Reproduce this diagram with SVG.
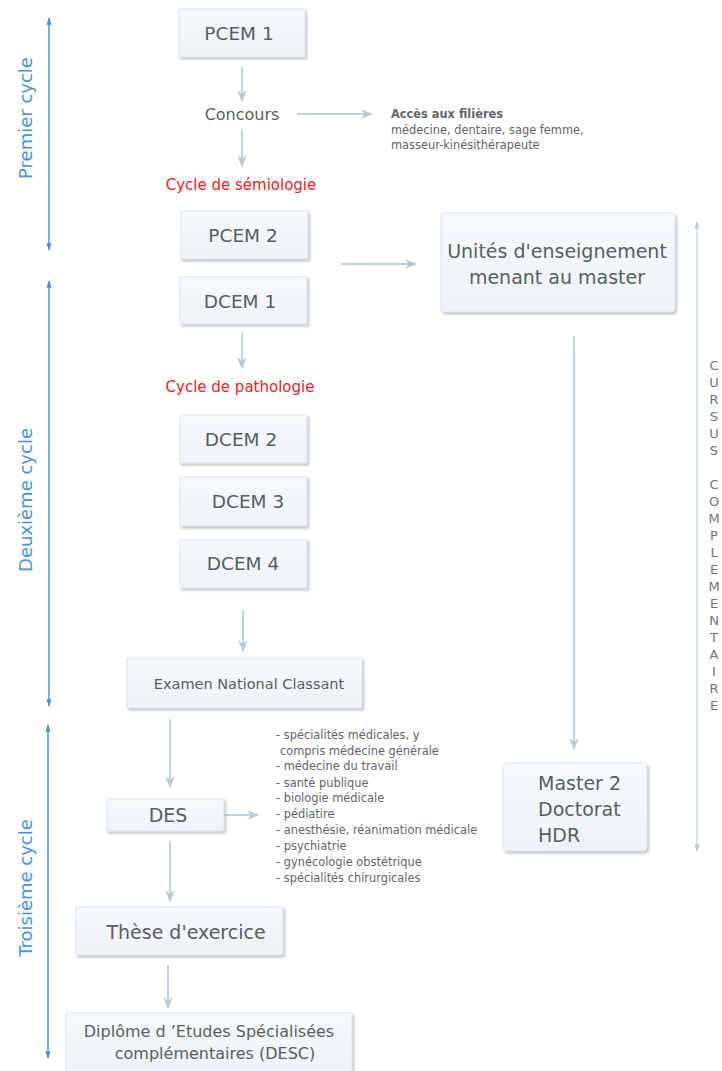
<svg xmlns="http://www.w3.org/2000/svg" width="722" height="1071" viewBox="0 0 722 1071">
  <defs>
    <linearGradient id="boxFill" x1="0" y1="0" x2="0" y2="1">
      <stop offset="0" stop-color="#f6f9fd"/>
      <stop offset="1" stop-color="#eef3f9"/>
    </linearGradient>
    <filter id="shadow" x="-10%" y="-10%" width="125%" height="130%">
      <feDropShadow dx="1.5" dy="2" stdDeviation="1" flood-color="#8a9099" flood-opacity="0.55"/>
    </filter>
    <marker id="arrowGrey" viewBox="0 0 10 10" refX="9" refY="5" markerWidth="6" markerHeight="6" orient="auto" markerUnits="strokeWidth">
      <path d="M0,1 L10,5 L0,9 L3,5 Z" fill="#b9c9d6"/>
    </marker>
    <marker id="arrowBlue" viewBox="0 0 10 10" refX="9" refY="5" markerWidth="6" markerHeight="5" orient="auto-start-reverse" markerUnits="strokeWidth">
      <path d="M0,1.5 L10,5 L0,8.5 Z" fill="#4a90e2"/>
    </marker>
    <marker id="arrowThin" viewBox="0 0 10 10" refX="9" refY="5" markerWidth="8" markerHeight="6" orient="auto-start-reverse" markerUnits="strokeWidth">
      <path d="M0,1.5 L10,5 L0,8.5 Z" fill="#b9c9d6"/>
    </marker>
  </defs>
  <style>
    .box { fill: url(#boxFill); stroke: #dfe6ee; stroke-width: 1; filter: url(#shadow); }
    .lbl { font-family: "DejaVu Sans", Verdana, sans-serif; fill: #585d64; text-anchor: middle; }
    .red { font-family: "DejaVu Sans", Verdana, sans-serif; fill: #ee2222; text-anchor: middle; font-size: 15px; }
    .small { font-family: "DejaVu Sans", Verdana, sans-serif; fill: #5f646b; font-size: 11.4px; }
    .cycle { font-family: "DejaVu Sans", Verdana, sans-serif; fill: #4a90e2; font-size: 18px; text-anchor: middle; }
    .flow { stroke: #c3d1dc; stroke-width: 2; fill: none; marker-end: url(#arrowGrey); }
    .blue { stroke: #4a90e2; stroke-width: 1.5; fill: none; marker-start: url(#arrowBlue); marker-end: url(#arrowBlue); }
    .thin { stroke: #c3d1dc; stroke-width: 1.2; fill: none; marker-start: url(#arrowThin); marker-end: url(#arrowThin); }
    .vert { font-family: "DejaVu Sans", Verdana, sans-serif; fill: #70757c; font-size: 13px; text-anchor: middle; }
  </style>

  <!-- cycle brackets on the left -->
  <g id="cycles">
    <line class="blue" x1="49" y1="18" x2="49" y2="250"/>
    <text class="cycle" transform="translate(32,118) rotate(-90)">Premier cycle</text>
    <line class="blue" x1="49" y1="281" x2="49" y2="706"/>
    <text class="cycle" transform="translate(32,500) rotate(-90)">Deuxième cycle</text>
    <line class="blue" x1="48" y1="725" x2="48" y2="1058"/>
    <text class="cycle" transform="translate(32,888) rotate(-90)">Troisième cycle</text>
  </g>

  <!-- connectors -->
  <g id="connectors">
    <line class="flow" x1="242" y1="67" x2="242" y2="101"/>
    <line class="flow" x1="297" y1="114" x2="372" y2="114"/>
    <line class="flow" x1="242" y1="130" x2="242" y2="166"/>
    <line class="flow" x1="341" y1="264" x2="416" y2="264"/>
    <line class="flow" x1="242" y1="333" x2="242" y2="368"/>
    <line class="flow" x1="243" y1="610" x2="243" y2="651"/>
    <line class="flow" x1="574" y1="336" x2="574" y2="749"/>
    <line class="flow" x1="170" y1="719" x2="170" y2="787"/>
    <line class="flow" x1="224" y1="815" x2="258" y2="815"/>
    <line class="flow" x1="170" y1="841" x2="170" y2="901"/>
    <line class="flow" x1="168" y1="965" x2="168" y2="1008"/>
    <line class="thin" x1="697" y1="222" x2="697" y2="851"/>
  </g>

  <g id="pcem1">
    <rect class="box" x="179" y="9" width="126" height="48"/>
    <text class="lbl" x="239" y="40" font-size="18.5">PCEM 1</text>
  </g>
  <g id="concours">
    <text class="lbl" x="242" y="120" font-size="16">Concours</text>
  </g>
  <g id="acces">
    <text class="small" x="391" y="118" font-weight="bold">Accès aux filières</text>
    <text class="small" x="391" y="134">médecine, dentaire, sage femme,</text>
    <text class="small" x="391" y="149">masseur-kinésithérapeute</text>
  </g>
  <g id="semiologie">
    <text class="red" x="241" y="190">Cycle de sémiologie</text>
  </g>
  <g id="pcem2">
    <rect class="box" x="181" y="211" width="127" height="48"/>
    <text class="lbl" x="243" y="242" font-size="18.5">PCEM 2</text>
  </g>
  <g id="unites">
    <rect class="box" x="441" y="213" width="234" height="99" rx="3"/>
    <text class="lbl" x="557" y="258" font-size="19">Unités d'enseignement</text>
    <text class="lbl" x="557" y="284" font-size="19">menant au master</text>
  </g>
  <g id="dcem1">
    <rect class="box" x="180" y="277" width="127" height="47"/>
    <text class="lbl" x="240" y="308" font-size="18.5">DCEM 1</text>
  </g>
  <g id="pathologie">
    <text class="red" x="240" y="392">Cycle de pathologie</text>
  </g>
  <g id="dcem2">
    <rect class="box" x="180" y="415" width="127" height="48"/>
    <text class="lbl" x="241" y="446" font-size="18.5">DCEM 2</text>
  </g>
  <g id="dcem3">
    <rect class="box" x="180" y="477" width="127" height="49"/>
    <text class="lbl" x="248" y="508" font-size="18.5">DCEM 3</text>
  </g>
  <g id="dcem4">
    <rect class="box" x="180" y="540" width="127" height="48"/>
    <text class="lbl" x="243" y="570" font-size="18.5">DCEM 4</text>
  </g>
  <g id="examen">
    <rect class="box" x="127" y="658" width="235" height="50"/>
    <text class="lbl" x="249" y="689" font-size="14.5">Examen National Classant</text>
  </g>
  <g id="des">
    <rect class="box" x="107" y="799" width="117" height="32"/>
    <text class="lbl" x="168" y="822" font-size="19">DES</text>
  </g>
  <g id="des-list" class="small">
    <text x="276" y="739">- spécialités médicales, y</text>
    <text x="280" y="755">compris médecine générale</text>
    <text x="276" y="770">- médecine du travail</text>
    <text x="276" y="787">- santé publique</text>
    <text x="276" y="802">- biologie médicale</text>
    <text x="276" y="818">- pédiatire</text>
    <text x="276" y="834">- anesthésie, réanimation médicale</text>
    <text x="276" y="850">- psychiatrie</text>
    <text x="276" y="866">- gynécologie obstétrique</text>
    <text x="276" y="882">- spécialités chirurgicales</text>
  </g>
  <g id="these">
    <rect class="box" x="76" y="907" width="207" height="48"/>
    <text class="lbl" x="186" y="939" font-size="19">Thèse d'exercice</text>
  </g>
  <g id="desc">
    <rect class="box" x="66" y="1013" width="286" height="60"/>
    <text class="lbl" x="209" y="1037" font-size="16">Diplôme d ’Etudes Spécialisées</text>
    <text class="lbl" x="215" y="1059" font-size="16">complémentaires (DESC)</text>
  </g>
  <g id="master">
    <rect class="box" x="503" y="763" width="144" height="88" rx="3"/>
    <text class="lbl" x="538" y="790" font-size="19" style="text-anchor:start">Master 2</text>
    <text class="lbl" x="538" y="816" font-size="19" style="text-anchor:start">Doctorat</text>
    <text class="lbl" x="538" y="842" font-size="19" style="text-anchor:start">HDR</text>
  </g>
  <g id="cursus" class="vert">
    <text x="714" y="370">C</text>
    <text x="714" y="387">U</text>
    <text x="714" y="404">R</text>
    <text x="714" y="421">S</text>
    <text x="714" y="438">U</text>
    <text x="714" y="455">S</text>
    <text x="714" y="489">C</text>
    <text x="714" y="506">O</text>
    <text x="714" y="523">M</text>
    <text x="714" y="540">P</text>
    <text x="714" y="557">L</text>
    <text x="714" y="574">E</text>
    <text x="714" y="591">M</text>
    <text x="714" y="608">E</text>
    <text x="714" y="625">N</text>
    <text x="714" y="642">T</text>
    <text x="714" y="659">A</text>
    <text x="714" y="676">I</text>
    <text x="714" y="693">R</text>
    <text x="714" y="710">E</text>
  </g>
</svg>
